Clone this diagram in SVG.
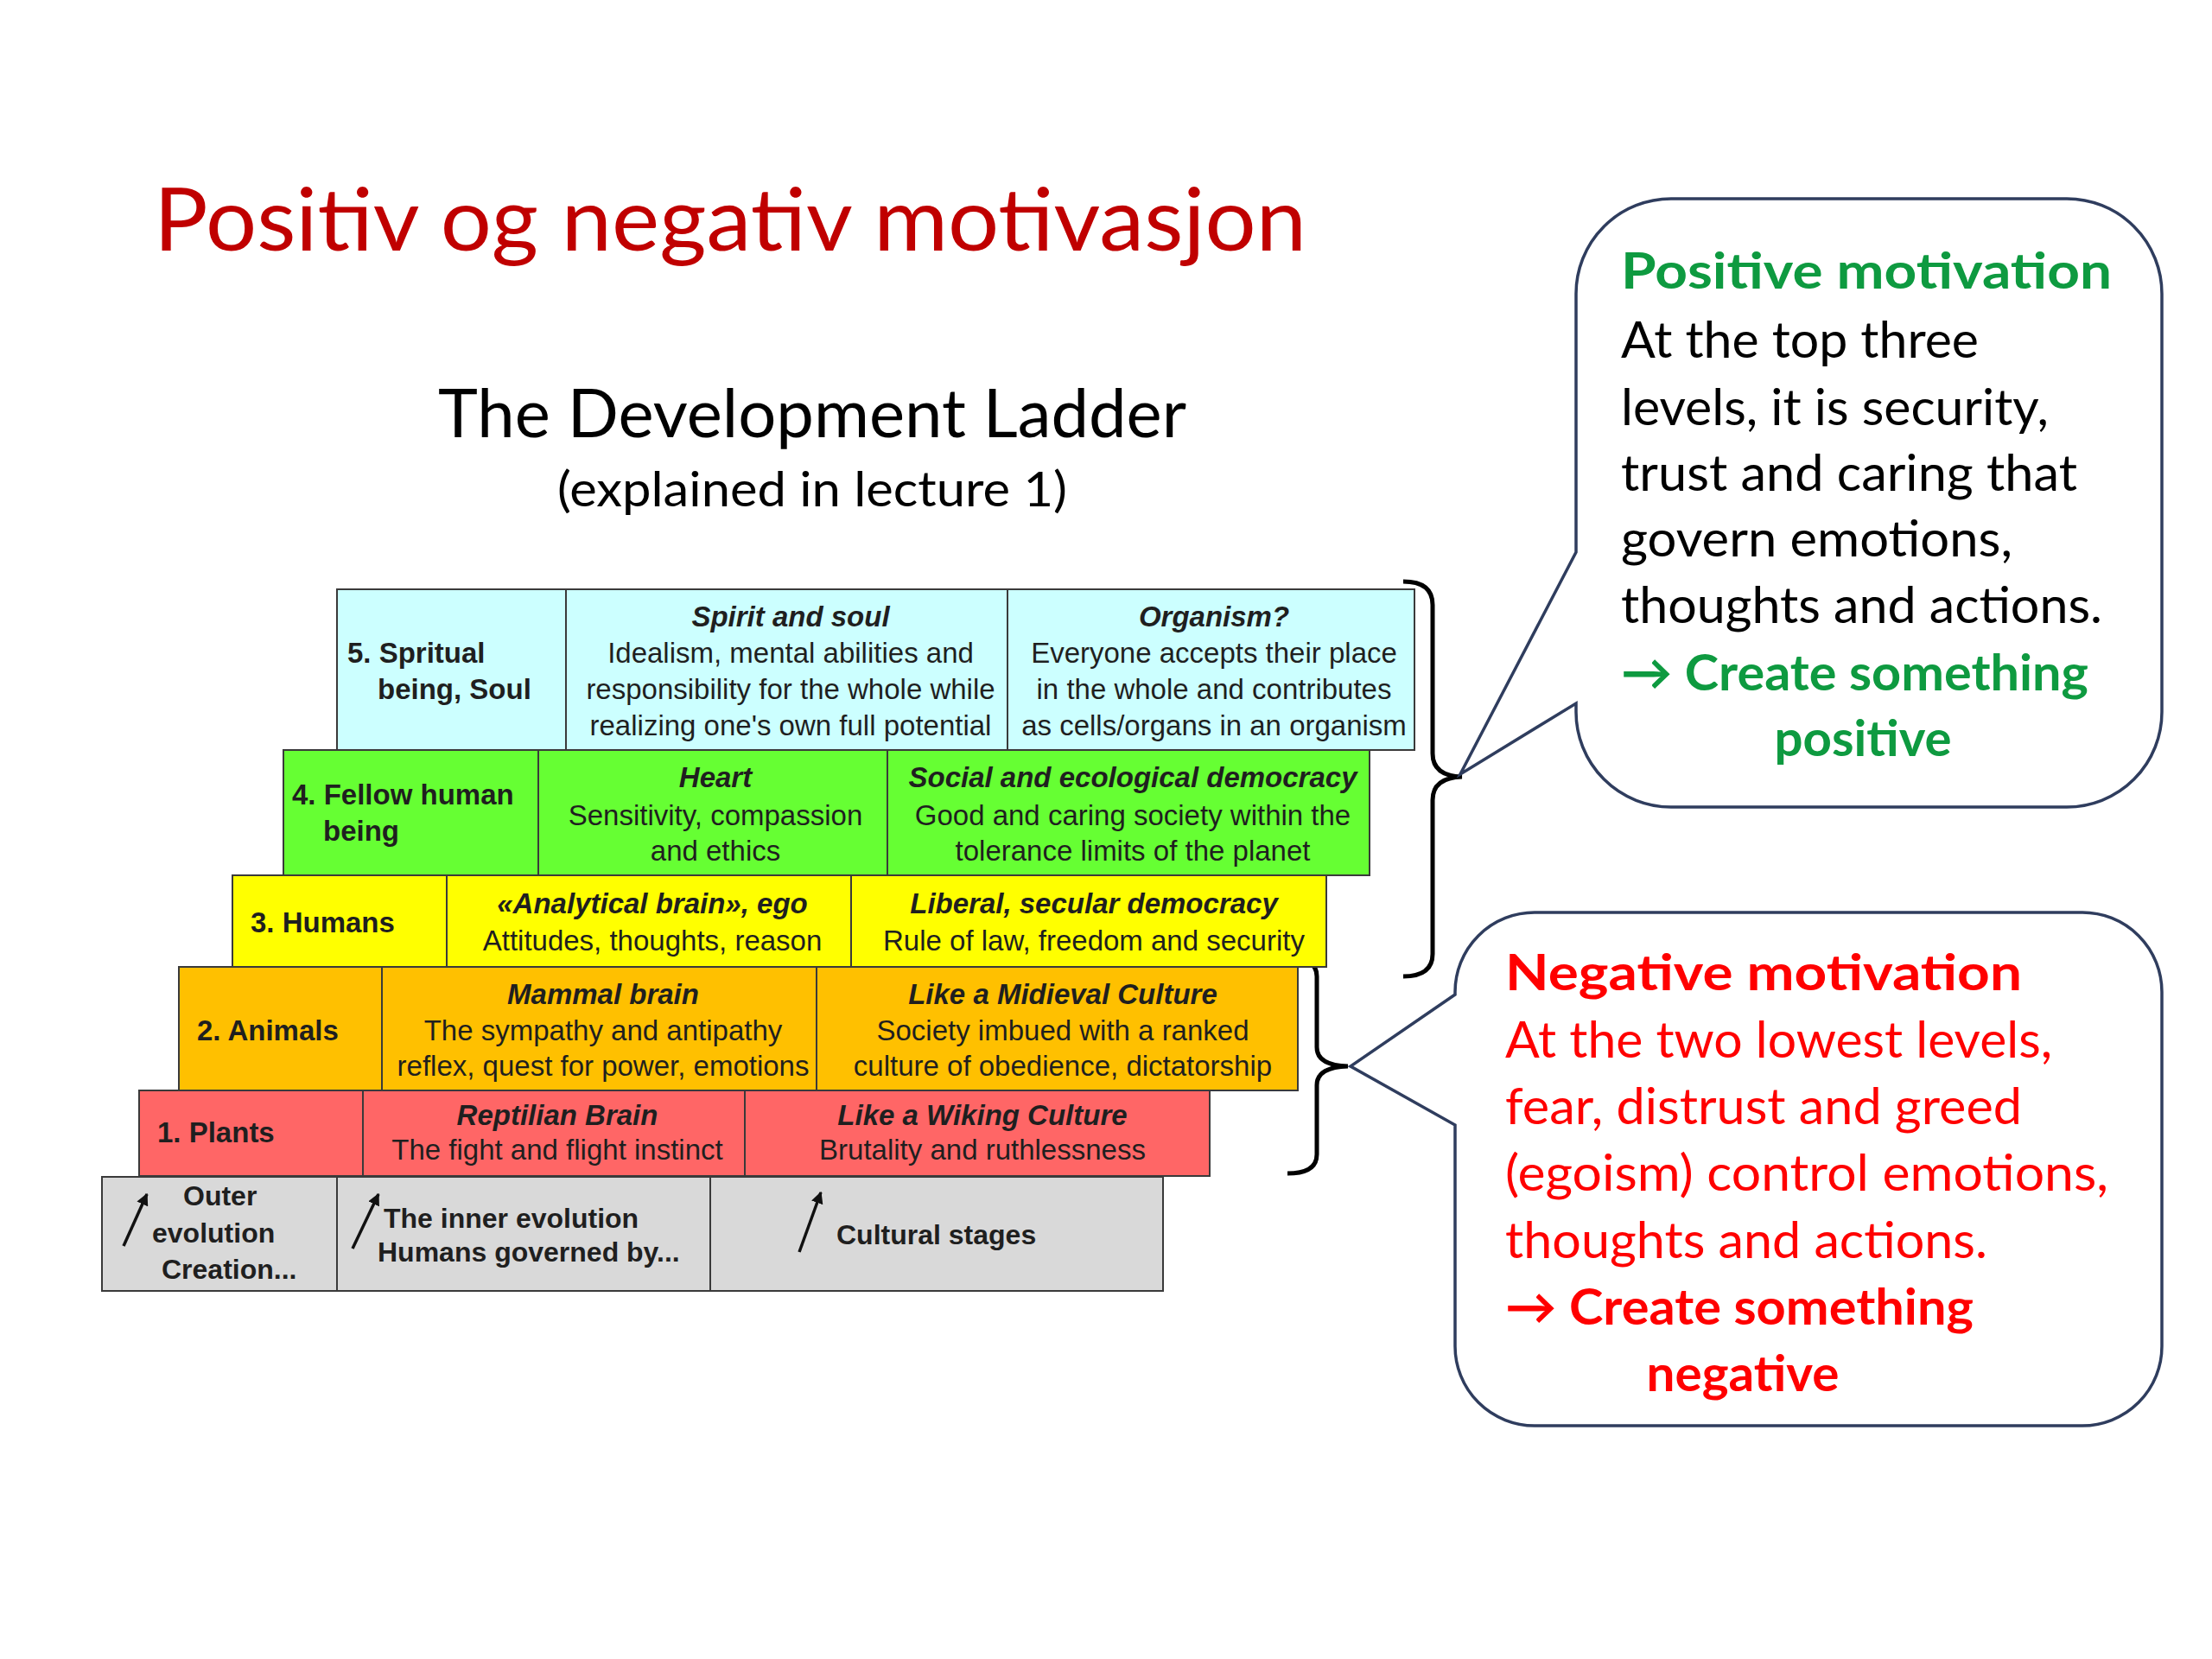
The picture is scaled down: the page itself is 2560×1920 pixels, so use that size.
<svg xmlns="http://www.w3.org/2000/svg" width="2560" height="1920" viewBox="0 0 2560 1920">
<style>
.t{font-family:"Liberation Sans",Arial,sans-serif;font-size:33px;fill:#1f1f1f}
.g{font-size:32px}
.b{font-weight:bold}
.bi{font-weight:bold;font-style:italic}
.c{text-anchor:middle}
.cal{font-family:Lato,"Noto Sans","DejaVu Sans",sans-serif}
.co{font-size:57.5px}
.row{stroke:#3a3a3a;stroke-width:2}
.div{stroke:#3a3a3a;stroke-width:2}
.callout{fill:#ffffff;stroke:#2f3d5e;stroke-width:3.5}
.grn{fill:#0e9a40;font-weight:bold}
.red{fill:#ff0000}
</style>
<defs>
<marker id="ah" viewBox="0 0 10 10" refX="9" refY="5" markerWidth="4" markerHeight="4" orient="auto" markerUnits="strokeWidth">
<path d="M0,0 L10,5 L0,10 Z" fill="#111"/>
</marker>
</defs>
<rect width="2560" height="1920" fill="#ffffff"/>

<text class="cal" x="178" y="290" font-size="100" fill="#c00000" textLength="1334" lengthAdjust="spacingAndGlyphs">Positiv og negativ motivasjon</text>
<text class="cal c" x="940" y="506" font-size="77" fill="#000" textLength="866" lengthAdjust="spacingAndGlyphs">The Development Ladder</text>
<text class="cal c" x="940" y="586" font-size="57" fill="#000" textLength="590" lengthAdjust="spacingAndGlyphs">(explained in lecture 1)</text>

<g id="connectors" fill="none">
<path d="M1624 673 Q1658 673 1658 700 V872 Q1658 898 1692 899 Q1658 900 1658 926 V1104 Q1658 1130 1624 1130" stroke="#000" stroke-width="5"/>
<path d="M1490 1108 Q1524 1108 1524 1130 V1212 Q1524 1233 1560 1234 Q1524 1235 1524 1256 V1336 Q1524 1358 1490 1358" stroke="#000" stroke-width="5"/>
</g>

<g id="level5">
<rect class="row" x="390" y="682" width="1247" height="186" fill="#ccffff"/>
<line class="div" x1="655" y1="682" x2="655" y2="868"/>
<line class="div" x1="1166" y1="682" x2="1166" y2="868"/>
<text class="t b" x="402" y="767">5. Spritual</text>
<text class="t b" x="437" y="809">being, Soul</text>
<text class="t bi c" x="915" y="725">Spirit and soul</text>
<text class="t c" x="915" y="767">Idealism, mental abilities and</text>
<text class="t c" x="915" y="809">responsibility for the whole while</text>
<text class="t c" x="915" y="851">realizing one's own full potential</text>
<text class="t bi c" x="1405" y="725">Organism?</text>
<text class="t c" x="1405" y="767">Everyone accepts their place</text>
<text class="t c" x="1405" y="809">in the whole and contributes</text>
<text class="t c" x="1405" y="851">as cells/organs in an organism</text>
</g>

<g id="level4">
<rect class="row" x="328" y="868" width="1257" height="145" fill="#66ff33"/>
<line class="div" x1="623" y1="868" x2="623" y2="1013"/>
<line class="div" x1="1027" y1="868" x2="1027" y2="1013"/>
<text class="t b" x="338" y="931">4. Fellow human</text>
<text class="t b" x="374" y="973">being</text>
<text class="t bi c" x="828" y="911">Heart</text>
<text class="t c" x="828" y="955">Sensitivity, compassion</text>
<text class="t c" x="828" y="996">and ethics</text>
<text class="t bi c" x="1311" y="911">Social and ecological democracy</text>
<text class="t c" x="1311" y="955">Good and caring society within the</text>
<text class="t c" x="1311" y="996">tolerance limits of the planet</text>
</g>

<g id="level3">
<rect class="row" x="269" y="1013" width="1266" height="106" fill="#ffff00"/>
<line class="div" x1="517" y1="1013" x2="517" y2="1119"/>
<line class="div" x1="985" y1="1013" x2="985" y2="1119"/>
<text class="t b" x="290" y="1079">3. Humans</text>
<text class="t bi c" x="755" y="1057">«Analytical brain», ego</text>
<text class="t c" x="755" y="1100">Attitudes, thoughts, reason</text>
<text class="t bi c" x="1266" y="1057">Liberal, secular democracy</text>
<text class="t c" x="1266" y="1100">Rule of law, freedom and security</text>
</g>

<g id="level2">
<rect class="row" x="207" y="1119" width="1295" height="143" fill="#ffc000"/>
<line class="div" x1="442" y1="1119" x2="442" y2="1262"/>
<line class="div" x1="945" y1="1119" x2="945" y2="1262"/>
<text class="t b" x="228" y="1204">2. Animals</text>
<text class="t bi c" x="698" y="1162">Mammal brain</text>
<text class="t c" x="698" y="1204">The sympathy and antipathy</text>
<text class="t c" x="698" y="1245">reflex, quest for power, emotions</text>
<text class="t bi c" x="1230" y="1162">Like a Midieval Culture</text>
<text class="t c" x="1230" y="1204">Society imbued with a ranked</text>
<text class="t c" x="1230" y="1245">culture of obedience, dictatorship</text>
</g>

<g id="level1">
<rect class="row" x="161" y="1262" width="1239" height="99" fill="#ff6666"/>
<line class="div" x1="420" y1="1262" x2="420" y2="1361"/>
<line class="div" x1="862" y1="1262" x2="862" y2="1361"/>
<text class="t b" x="182" y="1322">1. Plants</text>
<text class="t bi c" x="645" y="1302">Reptilian Brain</text>
<text class="t c" x="645" y="1342">The fight and flight instinct</text>
<text class="t bi c" x="1137" y="1302">Like a Wiking Culture</text>
<text class="t c" x="1137" y="1342">Brutality and ruthlessness</text>
</g>

<g id="base">
<rect class="row" x="118" y="1362" width="1228" height="132" fill="#d9d9d9"/>
<line class="div" x1="390" y1="1362" x2="390" y2="1494"/>
<line class="div" x1="822" y1="1362" x2="822" y2="1494"/>
<text class="t g b" x="212" y="1395">Outer</text>
<text class="t g b" x="176" y="1438">evolution</text>
<text class="t g b" x="187" y="1480">Creation...</text>
<text class="t g b" x="444" y="1421">The inner evolution</text>
<text class="t g b" x="437" y="1460">Humans governed by...</text>
<text class="t g b" x="968" y="1440">Cultural stages</text>
</g>

<g id="base-arrows" stroke="#111" stroke-width="3.5" fill="none">
<line x1="143" y1="1442" x2="170" y2="1382" marker-end="url(#ah)"/>
<line x1="408" y1="1445" x2="438" y2="1382" marker-end="url(#ah)"/>
<line x1="925" y1="1449" x2="950" y2="1380" marker-end="url(#ah)"/>
</g>

<g id="positive-callout">
<path class="callout" d="M1934 230 H2392 A110 110 0 0 1 2502 340 V824 A110 110 0 0 1 2392 934 H1934 A110 110 0 0 1 1824 824 V814 L1690 896 L1824 639 V340 A110 110 0 0 1 1934 230 Z"/>
<text class="cal co grn" x="1876" y="334" textLength="568" lengthAdjust="spacingAndGlyphs">Positive motivation</text>
<text class="cal co" fill="#000" x="1876" y="414" textLength="414" lengthAdjust="spacingAndGlyphs">At the top three</text>
<text class="cal co" fill="#000" x="1876" y="492" textLength="495" lengthAdjust="spacingAndGlyphs">levels, it is security,</text>
<text class="cal co" fill="#000" x="1876" y="568" textLength="528" lengthAdjust="spacingAndGlyphs">trust and caring that</text>
<text class="cal co" fill="#000" x="1876" y="644" textLength="453" lengthAdjust="spacingAndGlyphs">govern emotions,</text>
<text class="cal co" fill="#000" x="1876" y="721" textLength="557" lengthAdjust="spacingAndGlyphs">thoughts and actions.</text>
<text class="cal co grn" x="1876" y="799" textLength="541" lengthAdjust="spacingAndGlyphs">→ Create something</text>
<text class="cal co grn c" x="2156" y="875" textLength="205" lengthAdjust="spacingAndGlyphs">positive</text>
</g>

<g id="negative-callout">
<path class="callout" d="M1776 1056 H2410 A92 92 0 0 1 2502 1148 V1558 A92 92 0 0 1 2410 1650 H1776 A92 92 0 0 1 1684 1558 V1302 L1563 1234 L1684 1151 V1148 A92 92 0 0 1 1776 1056 Z"/>
<text class="cal co red" font-weight="bold" x="1742" y="1146" textLength="598" lengthAdjust="spacingAndGlyphs">Negative motivation</text>
<text class="cal co red" x="1742" y="1224" textLength="633" lengthAdjust="spacingAndGlyphs">At the two lowest levels,</text>
<text class="cal co red" x="1742" y="1301" textLength="598" lengthAdjust="spacingAndGlyphs">fear, distrust and greed</text>
<text class="cal co red" x="1742" y="1378" textLength="698" lengthAdjust="spacingAndGlyphs">(egoism) control emotions,</text>
<text class="cal co red" x="1742" y="1456" textLength="558" lengthAdjust="spacingAndGlyphs">thoughts and actions.</text>
<text class="cal co red" font-weight="bold" x="1742" y="1533" textLength="542" lengthAdjust="spacingAndGlyphs">→ Create something</text>
<text class="cal co red c" font-weight="bold" x="2017" y="1610" textLength="223" lengthAdjust="spacingAndGlyphs">negative</text>
</g>
</svg>
